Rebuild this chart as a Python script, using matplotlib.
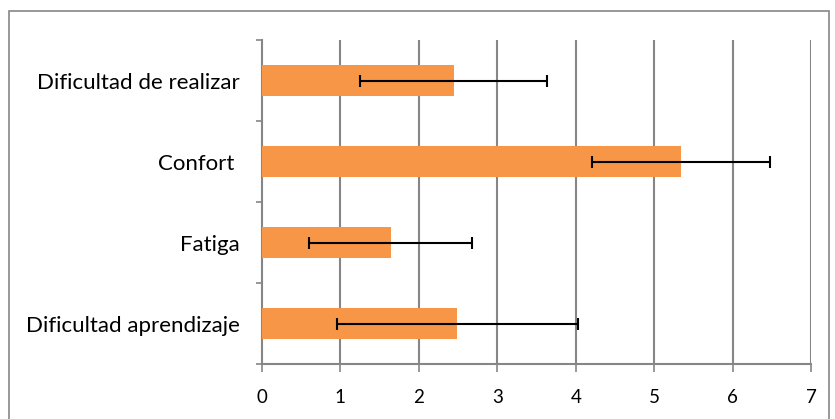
import matplotlib
matplotlib.use("Agg")
import matplotlib.pyplot as plt
from matplotlib.patches import Rectangle
import numpy as np

categories = ["Dificultad aprendizaje", "Fatiga", "Confort ", "Dificultad de realizar"]
means = [2.49, 1.64, 5.345, 2.445]
errors = [1.54, 1.04, 1.135, 1.195]
xticks = [0, 1, 2, 3, 4, 5, 6, 7]

plt.rcParams['font.family'] = ['Lato', 'DejaVu Sans']

W, H = 835, 419
fig = plt.figure(figsize=(W / 100, H / 100), dpi=100)
ax = fig.add_axes([262 / W, 1 - 364 / H, (811 - 262) / W, (364 - 40) / H])

grid_col = '#868686'
y = np.arange(len(categories))
ax.barh(y, means, height=0.39, color='#F79646', zorder=3)
ax.errorbar(means, y, xerr=errors, fmt='none', ecolor='black', elinewidth=1.5,
            capsize=4.3, capthick=1.5, zorder=4)

ax.set_xlim(0, 7)
ax.set_ylim(-0.5, len(categories) - 0.5)
ax.set_xticks(xticks)
ax.set_xticklabels([str(t) for t in xticks], fontsize=13.5)
ax.set_yticks(y)
ax.set_yticklabels(categories, fontsize=16)
ax.set_yticks(np.arange(-0.5, len(categories)), minor=True)

ax.tick_params(axis='y', which='major', length=0, pad=16)
ax.tick_params(axis='y', which='minor', length=4, width=1.2, color=grid_col, direction='out')
ax.tick_params(axis='x', which='major', length=6, width=1.2, color=grid_col, direction='out', pad=12)

for x in xticks[1:]:
    ax.axvline(x, color=grid_col, linewidth=1.5, zorder=1)

for s in ['top', 'right']:
    ax.spines[s].set_visible(False)
for s in ['left', 'bottom']:
    ax.spines[s].set_color(grid_col)
    ax.spines[s].set_linewidth(1.5)

fig.patches.append(Rectangle((9 / W, -0.1), (829 - 9) / W, 1.1 - 11 / H,
                             transform=fig.transFigure, fill=False,
                             edgecolor='#868686', linewidth=1.2))

fig.savefig('out.png', dpi=100)
